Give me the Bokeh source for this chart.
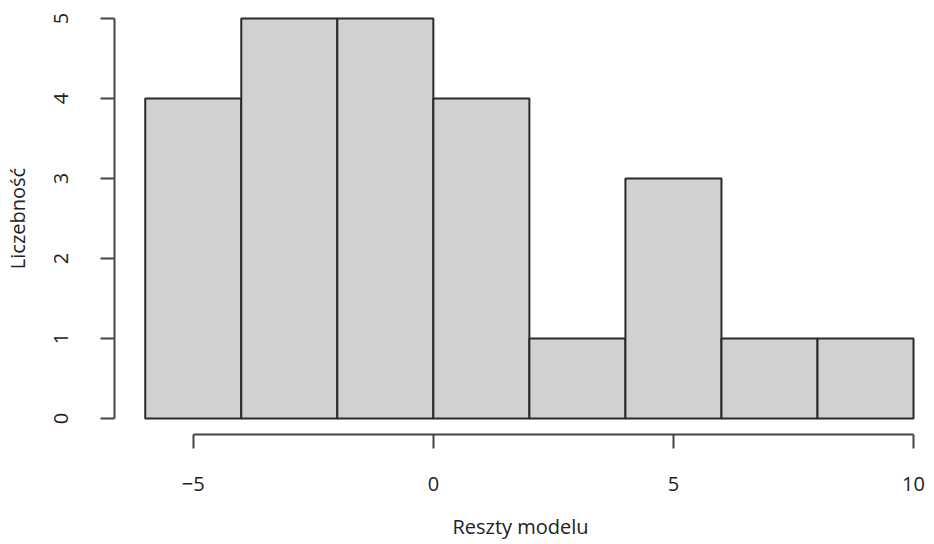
from bokeh.plotting import figure
from bokeh.models import Range1d, FixedTicker, ColumnDataSource
from bokeh.embed import file_html
from bokeh.resources import INLINE

# Histogram data (R-style hist of model residuals)
bin_left = [-6, -4, -2, 0, 2, 4, 6, 8]
bin_right = [-4, -2, 0, 2, 4, 6, 8, 10]
counts = [4, 5, 5, 4, 1, 3, 1, 1]
x_ticks = [-5, 0, 5, 10]
x_tick_labels = ["\u22125", "0", "5", "10"]
y_ticks = [0, 1, 2, 3, 4, 5]
x_title = "Reszty modelu"
y_title = "Liczebność"

FONT = "Open Sans"
FS = "20px"
TXT = "#222222"
AX = "#444444"

src = ColumnDataSource(dict(left=bin_left, right=bin_right, top=counts,
                            bottom=[0] * len(counts)))

p = figure(width=926, height=544, output_backend="svg", toolbar_location=None,
           x_range=Range1d(-6.64, 10.27), y_range=Range1d(-0.2, 5.2),
           min_border_left=114, min_border_right=0, min_border_top=2,
           min_border_bottom=110)

p.quad(left="left", right="right", top="top", bottom="bottom", source=src,
       fill_color="#d0d1d3", line_color="#2a2a2a", line_width=2)

p.outline_line_color = None
p.xgrid.visible = False
p.ygrid.visible = False
p.background_fill_color = "white"
p.border_fill_color = "white"

xa = p.xaxis[0]
xa.ticker = FixedTicker(ticks=x_ticks)
xa.bounds = (x_ticks[0], x_ticks[-1])
xa.major_label_overrides = {t: l for t, l in zip(x_ticks, x_tick_labels)}
xa.axis_label = x_title

ya = p.yaxis[0]
ya.ticker = FixedTicker(ticks=y_ticks)
ya.bounds = (y_ticks[0], y_ticks[-1])
ya.major_label_orientation = "vertical"
ya.axis_label = y_title

for ax in (xa, ya):
    ax.axis_line_color = AX
    ax.axis_line_width = 2
    ax.major_tick_line_color = AX
    ax.major_tick_line_width = 2
    ax.major_tick_out = 14
    ax.major_tick_in = 0
    ax.minor_tick_line_color = None
    ax.major_label_text_font = FONT
    ax.major_label_text_font_size = FS
    ax.major_label_text_color = TXT
    ax.axis_label_text_font = FONT
    ax.axis_label_text_font_size = FS
    ax.axis_label_text_font_style = "normal"
    ax.axis_label_text_color = TXT

xa.major_label_standoff = 28
xa.axis_label_standoff = 19
ya.major_label_standoff = 33
ya.axis_label_standoff = 20

open("out.html", "w").write(file_html(p, INLINE))
